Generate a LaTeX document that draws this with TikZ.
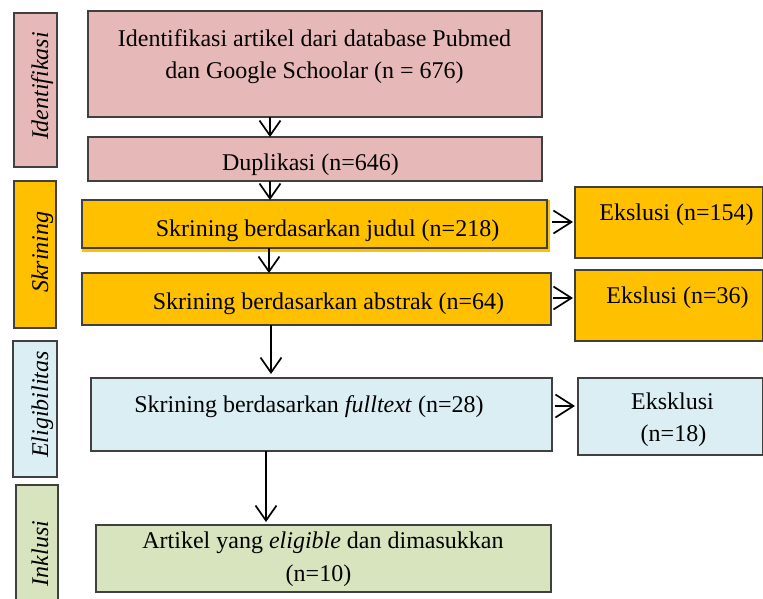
\documentclass[tikz,border=0pt]{standalone}
\usepackage{fontspec}
\setmainfont{Liberation Serif}
\usetikzlibrary{arrows.meta}
\definecolor{cpink}{HTML}{E6B9B8}
\definecolor{corange}{HTML}{FFC000}
\definecolor{cblue}{HTML}{DAEEF3}
\definecolor{cgreen}{HTML}{D7E4BD}
\definecolor{cborder}{HTML}{404040}
\newcommand\mkbox[6]{\node[boxbase,#6,minimum width={#4-#2},minimum height={#5-#3}] (#1) at ({(#2+#4)/2},{(#3+#5)/2}) {};}
\begin{document}
\begin{tikzpicture}[x=1pt,y=-1pt,
  boxbase/.style={draw=cborder,line width=1.1pt,inner sep=0pt,outer sep=0pt},
  pinkbox/.style={fill=cpink},
  orangebox/.style={fill=corange},
  bluebox/.style={fill=cblue},
  greenbox/.style={fill=cgreen},
  txt/.style={inner sep=0pt,anchor=base,font=\fontsize{24}{32}\selectfont},
  sidetxt/.style={txt,rotate=90,font=\fontsize{24}{32}\selectfont\itshape},
  varr/.style={line width=1.7pt,-{Straight Barb[length=15pt,width=21pt,line width=1.7pt]}},
  harr/.style={line width=1.7pt,-{Straight Barb[length=18pt,width=23pt,line width=1.7pt]}}]
\useasboundingbox (0,0) rectangle (763,598);
% side labels
\mkbox{s1}{14}{13}{57}{167}{pinkbox}
\mkbox{s2}{14}{181}{56}{328}{orangebox}
\mkbox{s3}{13}{341}{57}{477}{bluebox}
\mkbox{s4}{16}{485}{58}{602}{greenbox}
\node[sidetxt] (t1) at (48,86) {Identifikasi};
\node[sidetxt] (t2) at (48,252) {Skrining};
\node[sidetxt] (t3) at (48,404.5) {Eligibilitas};
\node[sidetxt] (t4) at (48,553.5) {Inklusi};
% main boxes
\mkbox{ident}{88}{11}{542}{117}{pinkbox}
\mkbox{dup}{88}{137}{542}{181}{pinkbox}
\fill[corange] (82,200) rectangle (550,252);
\mkbox{judul}{82}{200}{547}{248}{orangebox}
\mkbox{abs}{82}{273}{551}{325}{orangebox}
\mkbox{ft}{91}{378}{552}{451}{bluebox}
\mkbox{art}{96}{525}{551}{592}{greenbox}
\mkbox{ek1}{575}{187}{762.5}{258}{orangebox}
\mkbox{ek2}{575}{270}{762.5}{341}{orangebox}
\mkbox{ek3}{578}{378}{762.5}{455}{bluebox}
% texts
\node[txt] (ident1) at (314.5,46) {Identifikasi artikel dari database Pubmed};
\node[txt] (ident2) at (314.5,78) {dan Google Schoolar (n = 676)};
\node[txt] (duptx) at (310.5,170) {Duplikasi (n=646)};
\node[txt] (judtx) at (327.5,236) {Skrining berdasarkan judul (n=218)};
\node[txt] (abstx) at (328.5,309) {Skrining berdasarkan abstrak (n=64)};
\node[txt] (fttx) at (309,412) {Skrining berdasarkan \textit{fulltext} (n=28)};
\node[txt] (art1) at (323,548) {Artikel yang \textit{eligible} dan dimasukkan};
\node[txt] (art2) at (318.5,581) {(n=10)};
\node[txt] (ek1tx) at (676.5,220) {Ekslusi (n=154)};
\node[txt] (ek2tx) at (677.5,303) {Ekslusi (n=36)};
\node[txt] (ek3a) at (672.5,409) {Eksklusi};
\node[txt] (ek3b) at (673.5,441) {(n=18)};
% arrow columns
\coordinate (c1) at (270,0);
\coordinate (c3) at (269,0);
\coordinate (c4) at (271,0);
\coordinate (c5) at (266,0);
\draw[varr] (ident.south -| c1) -- (dup.north -| c1);
\draw[varr] (dup.south -| c1) -- (judul.north -| c1);
\draw[varr] (judul.south -| c3) -- (abs.north -| c3);
\draw[varr,shorten >=4pt] (abs.south -| c4) -- (ft.north -| c4);
\draw[varr,shorten >=3pt] (ft.south -| c5) -- (art.north -| c5);
% horizontal arrows
\coordinate (r1) at (0,222);
\coordinate (r2) at (0,298);
\coordinate (r3) at (0,406);
\draw[harr,shorten <=5pt,shorten >=2pt] (judul.east |- r1) -- (ek1.west |- r1);
\draw[harr,shorten <=2pt,shorten >=2pt] (abs.east |- r2) -- (ek2.west |- r2);
\draw[harr,shorten <=3pt,shorten >=3pt] (ft.east |- r3) -- (ek3.west |- r3);
\end{tikzpicture}
\end{document}
